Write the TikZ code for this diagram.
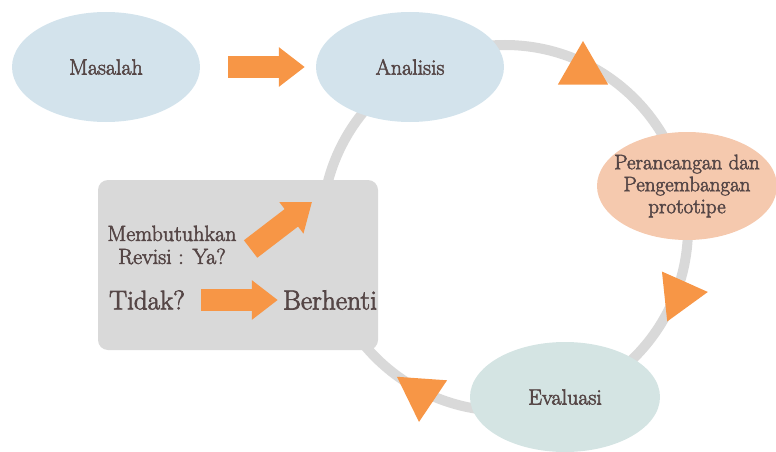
\documentclass[tikz,border=0pt]{standalone}
\usepackage{fontspec}
\newfontfamily\stagefont{Latin Modern Roman}[FakeBold=2.5]
\usetikzlibrary{shapes.geometric,arrows.meta}

\definecolor{txtgray}{HTML}{554646}
\definecolor{orng}{HTML}{F79646}
\definecolor{ringgray}{HTML}{D9D9D9}
\definecolor{paleblue}{HTML}{D3E3EC}
\definecolor{palegreen}{HTML}{D4E4E3}
\definecolor{peach}{HTML}{F5C9AE}

\begin{document}
\begin{tikzpicture}[x=1pt,y=-1pt,
    blob/.style={ellipse,minimum width=188pt,minimum height=110pt,inner sep=0pt,
        text=txtgray,font=\stagefont\fontsize{22}{24}\selectfont},
    lbl/.style={inner sep=0pt,text=txtgray},
    blockarrow/.style={draw=orng,line width=22pt,-{Triangle[width=38pt,length=26pt]}},
    tri/.style={regular polygon,regular polygon sides=3,fill=orng,minimum size=58pt,inner sep=0pt}]

    \useasboundingbox (0,0) rectangle (776,452);

    % cycle ring and its markers
    \draw[ringgray,line width=10pt] (505,228) circle (183pt);
    \node[tri] (triTop) at (583,70) {};
    \node[tri,rotate=-84] (triRight) at (679,295) {};
    \node[tri,rotate=176] (triBottom) at (421,393) {};

    % stages
    \node[blob,fill=paleblue] (masalah) at (106,67) {Masalah};
    \node[blob,fill=paleblue] (analisis) at (410,67) {Analisis};
    \node[blob,fill=peach,minimum width=180pt,minimum height=108pt] (rancang) at (687,186) {};
    \node[lbl,align=center,font=\stagefont\fontsize{21}{22}\selectfont] (rancangtxt)
        at (rancang) {Perancangan dan\\Pengembangan\\prototipe};
    \node[blob,fill=palegreen,minimum width=190pt] (evaluasi) at (565,397) {Evaluasi};

    % decision box
    \node[rectangle,rounded corners=10pt,fill=ringgray,minimum width=280pt,
        minimum height=170pt] (keputusan) at (238,265) {};
    \node[lbl,align=center,font=\stagefont\fontsize{22}{23}\selectfont] (revisi) at (172,245)
        {Membutuhkan\\Revisi : Ya?};
    \node[lbl,font=\stagefont\fontsize{27}{28}\selectfont] (tidak) at (147,300) {Tidak?};
    \node[lbl,font=\stagefont\fontsize{27.5}{28}\selectfont] (berhenti) at (330,300) {Berhenti};
    \coordinate (kembali) at (312,202);

    \draw[blockarrow,shorten <=28pt,shorten >=11pt] (masalah) -- (analisis);
    \draw[blockarrow] ([xshift=14pt,yshift=-4pt]revisi.east) -- (kembali);
    \draw[blockarrow,shorten <=16pt,shorten >=5pt] (tidak) -- (berhenti);
\end{tikzpicture}
\end{document}
